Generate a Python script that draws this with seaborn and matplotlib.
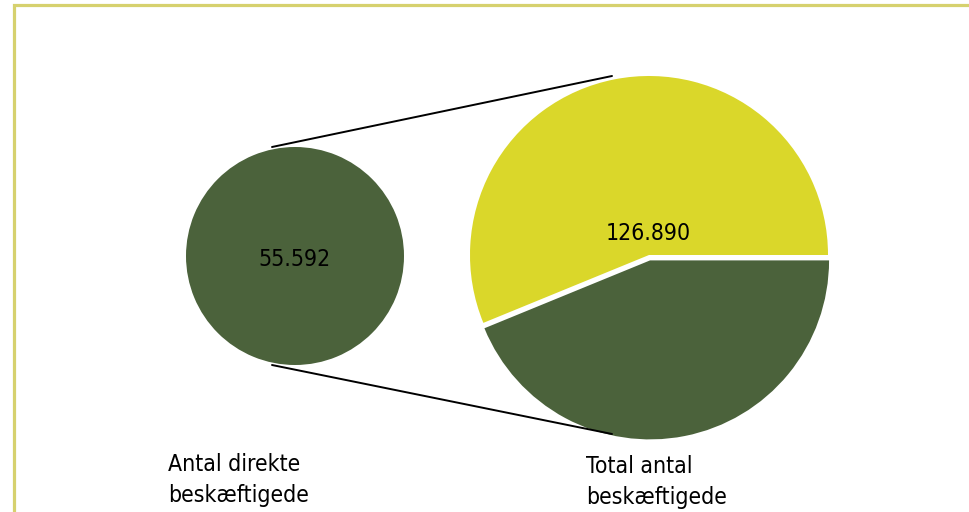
import matplotlib
matplotlib.use("Agg")
import matplotlib.pyplot as plt
import seaborn as sns

# Employment figures
direct_label = "Antal direkte\nbeskæftigede"
total_label = "Total antal\nbeskæftigede"
direct_jobs = 55592
total_jobs = 126890

dark_green = "#4B623B"
lime = "#DAD72A"
frame_col = "#D6D16E"

sns.set_theme(style="white")
plt.rcParams["font.family"] = ["DejaVu Sans"]
txt_kw = dict(fontsize=16.5, fontstretch="condensed", color="black")


def fmt(v):
    return f"{v:,}".replace(",", ".")


fig = plt.figure(figsize=(9.7, 5.12), dpi=100)
ax = fig.add_axes([0, 0, 1, 1])

# Small pie: direct employment only
small_c, small_r = (295, 256), 109
ax.pie([direct_jobs], colors=[dark_green], center=small_c, radius=small_r,
       frame=True, wedgeprops=dict(linewidth=0))

# Large pie: direct share vs. indirect share of total (y axis is flipped,
# so counterclock=True runs clockwise on screen)
big_c, big_r = (649, 255), 179
ax.pie([direct_jobs, total_jobs - direct_jobs], colors=[dark_green, lime],
       startangle=0, counterclock=True, explode=[5.5, 0],
       center=big_c, radius=big_r, frame=True, wedgeprops=dict(linewidth=0))

ax.set_xlim(0, 970)
ax.set_ylim(512, 0)
ax.set_aspect("equal")
ax.axis("off")

# Frame
ax.plot([14.5, 14.5, 975], [520, 5, 5], color=frame_col, lw=2.3,
        solid_joinstyle="miter", clip_on=False)

# Connector lines
ax.plot([272, 612], [147, 76], color="black", lw=1.4)
ax.plot([272, 612], [365, 434], color="black", lw=1.4)

# Value labels
ax.text(294, 259, fmt(direct_jobs), ha="center", va="center", **txt_kw)
ax.text(648, 233, fmt(total_jobs), ha="center", va="center", **txt_kw)

# Category labels
ax.text(168, 480, direct_label, ha="left", va="center", linespacing=1.45, **txt_kw)
ax.text(586, 482, total_label, ha="left", va="center", linespacing=1.45, **txt_kw)

fig.savefig("out.png", dpi=100)
